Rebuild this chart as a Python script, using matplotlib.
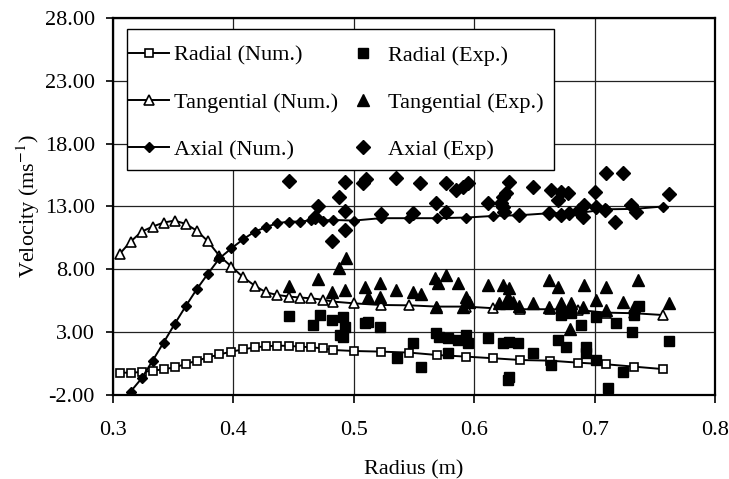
import numpy as np
import matplotlib
matplotlib.use('Agg')
import matplotlib.pyplot as plt
from matplotlib.patches import Rectangle
from matplotlib.ticker import FormatStrFormatter

# numerical solution (same radii for all three components)
radius_num = [0.3055, 0.3146, 0.3238, 0.3329, 0.3420, 0.3512, 0.3605, 0.3695,
              0.3785, 0.3884, 0.3984, 0.4081, 0.4177, 0.4270, 0.4363, 0.4462,
              0.4556, 0.4647, 0.4742, 0.4826, 0.5001, 0.5222, 0.5462, 0.5691,
              0.5932, 0.6159, 0.6383, 0.6629, 0.6859, 0.7093, 0.7328, 0.7563]
radial_num = [-0.26, -0.26, -0.21, -0.10, 0.01, 0.17, 0.43, 0.70, 0.94, 1.20,
              1.42, 1.60, 1.76, 1.84, 1.90, 1.87, 1.82, 1.76, 1.68, 1.55, 1.47,
              1.42, 1.34, 1.15, 1.02, 0.89, 0.75, 0.70, 0.54, 0.41, 0.22, 0.03]
tangential_num = [9.21, 10.19, 10.99, 11.39, 11.71, 11.87, 11.60, 11.07, 10.25,
                  9.05, 8.20, 7.35, 6.68, 6.15, 5.94, 5.81, 5.73, 5.67, 5.56,
                  5.41, 5.27, 5.14, 5.11, 5.01, 5.01, 4.88, 4.80, 4.80, 4.74,
                  4.53, 4.48, 4.34]
axial_num = [-2.8, -1.77, -0.71, 0.70, 2.14, 3.62, 5.06, 6.39, 7.59, 8.86, 9.66,
             10.38, 10.99, 11.34, 11.66, 11.79, 11.79, 11.90, 11.87, 11.92,
             11.87, 12.06, 12.06, 12.06, 12.11, 12.24, 12.30, 12.46, 12.46,
             12.77, 12.80, 12.99]

# experimental points
radial_exp_r = [0.4462, 0.4716, 0.4661, 0.4821, 0.4909, 0.4923, 0.4909, 0.4882,
                0.5089, 0.5117, 0.5219, 0.5357, 0.5490, 0.5559, 0.5683, 0.5711,
                0.5780, 0.5780, 0.5863, 0.5932, 0.5946, 0.6112, 0.6236, 0.6291,
                0.6277, 0.6286, 0.6361, 0.6485, 0.6637, 0.6720, 0.6803, 0.6886,
                0.6693, 0.6762, 0.6928, 0.6928, 0.7010, 0.7010, 0.7107, 0.7176,
                0.7237, 0.7310, 0.7364, 0.7328, 0.7613]
radial_exp_v = [4.26, 4.34, 3.55, 3.94, 4.21, 3.41, 2.61, 2.75, 3.68, 3.81, 3.41,
                0.89, 2.08, 0.22, 2.88, 2.61, 2.48, 1.28, 2.35, 2.75, 2.08, 2.48,
                2.08, 2.22, -0.84, -0.58, 2.14, 1.28, 0.35, 4.34, 4.47, 3.55,
                2.35, 1.82, 1.82, 1.28, 4.21, 0.75, -1.51, 3.73, -0.18, 3.01,
                5.06, 4.34, 2.29]

tangential_exp_r = [0.4462, 0.4702, 0.4937, 0.4876, 0.4821, 0.4923, 0.5089,
                    0.5117, 0.5213, 0.5213, 0.5352, 0.5490, 0.5559, 0.5670,
                    0.5766, 0.5697, 0.5863, 0.5678, 0.5932, 0.5904, 0.5960,
                    0.6112, 0.6236, 0.6286, 0.6277, 0.6319, 0.6208, 0.6264,
                    0.6375, 0.6485, 0.6624, 0.6624, 0.6693, 0.6720, 0.6803,
                    0.6900, 0.6795, 0.6914, 0.7010, 0.7093, 0.7093, 0.7232,
                    0.7356, 0.7328, 0.7613]
tangential_exp_v = [6.66, 7.19, 8.86, 8.07, 6.20, 6.34, 6.60, 5.80, 6.87, 5.80,
                    6.34, 6.20, 6.02, 7.27, 7.53, 6.87, 6.87, 5.00, 5.80, 5.00,
                    5.40, 6.73, 6.73, 6.47, 5.80, 5.40, 5.27, 5.27, 5.06, 5.27,
                    5.00, 7.13, 6.60, 5.27, 5.27, 5.00, 3.20, 6.73, 5.54, 6.55,
                    4.74, 5.40, 7.13, 5.00, 5.27]

axial_exp_r = [0.4462, 0.4703, 0.4923, 0.4876, 0.4923, 0.4674, 0.4923, 0.4821,
               0.5075, 0.5103, 0.5352, 0.5550, 0.5683, 0.5766, 0.5766, 0.5850,
               0.5904, 0.5946, 0.5227, 0.5490, 0.6112, 0.6220, 0.6236, 0.6260,
               0.6286, 0.6237, 0.6250, 0.6375, 0.6485, 0.6637, 0.6720, 0.6776,
               0.6693, 0.6624, 0.6720, 0.6790, 0.6872, 0.6900, 0.6914, 0.7005,
               0.7010, 0.7093, 0.7088, 0.7170, 0.7232, 0.7300, 0.7342, 0.7613]
axial_exp_v = [15.00, 13.04, 14.98, 13.71, 12.64, 12.19, 11.12, 10.27, 14.85,
               15.17, 15.25, 14.85, 13.25, 14.85, 12.59, 14.32, 14.58, 14.85,
               12.40, 12.45, 13.30, 13.25, 13.78, 14.05, 14.98, 12.99, 12.59,
               12.32, 14.58, 14.32, 14.18, 14.05, 13.51, 12.46, 12.32, 12.46,
               12.72, 12.19, 13.12, 14.18, 12.99, 15.70, 12.72, 11.79, 15.70,
               13.12, 12.59, 13.99]

x_ticks = [0.3, 0.4, 0.5, 0.6, 0.7, 0.8]
y_ticks = [-2, 3, 8, 13, 18, 23, 28]

plt.rcParams['font.family'] = ['Liberation Serif', 'DejaVu Serif']
plt.rcParams['mathtext.fontset'] = 'stix'
plt.rcParams['font.size'] = 16


def plotVelocity():
    fig = plt.figure(figsize=(7.29, 4.79), dpi=100)
    ax = fig.add_axes([0.155, 0.1764, 0.826, 0.7854])

    ax.plot(radius_num, radial_num, '-', color='black', lw=1.4,
            marker='s', ms=6, mfc='white', mec='black', mew=1.2,
            label='Radial (Num.)')
    ax.plot(radius_num, tangential_num, '-', color='black', lw=1.4,
            marker='^', ms=7, mfc='white', mec='black', mew=1.2,
            label='Tangential (Num.)')
    ax.plot(radius_num, axial_num, '-', color='black', lw=1.4,
            marker='D', ms=5.5, mfc='black', mec='black',
            label='Axial (Num.)')

    ax.plot(radial_exp_r, radial_exp_v, 's', color='black', ms=7.5,
            linestyle='none', label='Radial (Exp.)')
    ax.plot(tangential_exp_r, tangential_exp_v, '^', color='black', ms=9,
            linestyle='none', label='Tangential (Exp.)')
    ax.plot(axial_exp_r, axial_exp_v, 'D', color='black', ms=7,
            linestyle='none', label='Axial (Exp)')

    ax.set_xlim(0.3, 0.8)
    ax.set_ylim(-2, 28)
    ax.set_xticks(x_ticks)
    ax.set_yticks(y_ticks)
    ax.xaxis.set_major_formatter(FormatStrFormatter('%.1f'))
    ax.yaxis.set_major_formatter(FormatStrFormatter('%.2f'))
    ax.tick_params(axis='x', direction='out', length=6, width=1.2, pad=13)
    ax.tick_params(axis='y', direction='out', length=5, width=1.2, pad=8)
    ax.grid(True, color='#222222', lw=0.9)
    ax.set_axisbelow(True)
    for s in ax.spines.values():
        s.set_linewidth(1.6)

    ax.set_xlabel('Radius (m)', labelpad=15)
    ax.set_ylabel('Velocity (ms$^{-1}$)', labelpad=2)

    # legend frame drawn by hand, the padding is uneven in the original
    box = Rectangle((0.0233, 0.5963), 0.7093, 0.3763, transform=ax.transAxes,
                    facecolor='white', edgecolor='black', lw=1.0, zorder=4)
    ax.add_patch(box)
    leg = ax.legend(ncol=2, loc='upper left', bbox_to_anchor=(0.027, 0.929),
                    borderaxespad=0, borderpad=0, frameon=False,
                    handlelength=1.8, handletextpad=0.2,
                    columnspacing=0.25, labelspacing=1.2)
    leg.set_zorder(5)

    fig.savefig('out.png', dpi=100)


def main():
    plotVelocity()


if __name__ == "__main__":
    main()
